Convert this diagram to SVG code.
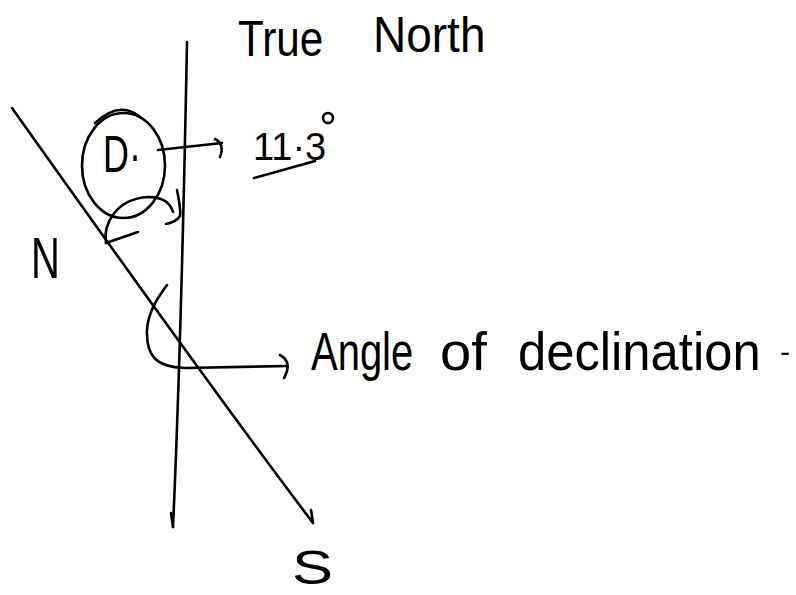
<svg xmlns="http://www.w3.org/2000/svg" width="796" height="595" viewBox="0 0 796 595">
<style>
.s{fill:none;stroke:#000;stroke-width:2.6;stroke-linecap:round;stroke-linejoin:round}
.t{font-family:"Liberation Sans",Arial,sans-serif;fill:#000}
</style>
<rect width="796" height="595" fill="#fff"/>
<g id="connectors">
<path class="s" d="M187,42 C184,200 181,350 173,527"/>
<path class="s" d="M171,513 L173,527"/>
<path class="s" d="M12,108 Q205,380 313,523"/>
<path class="s" d="M311,510 L313,523"/>
<path class="s" d="M158,150 L222,143"/>
<path class="s" d="M215,139 Q225,144 220,157"/>
<path class="s" d="M106,243 C103,225 115,199 148,197 C165,197 171,205 173,212"/>
<path class="s" d="M106,243 L138,232"/>
<path class="s" d="M177,190 Q181,210 180,216 Q176,222 166,224"/>
<path class="s" d="M167,285 C160,295 148,310 147,330 C146,355 155,367 185,368 L287,366"/>
<path class="s" d="M280,355 Q293,362 284,378"/>
</g>
<g id="node-D">
<ellipse class="s" cx="123.5" cy="165.5" rx="41.5" ry="52.5"/>
<path class="s" d="M95,123 Q120,100 140,117"/>
<text class="t" transform="translate(103,172) scale(0.69,1)" font-size="52">D·</text>
</g>
<g id="node-angle-value">
<text class="t" x="253" y="160" font-size="38">11·3</text>
<circle class="s" cx="328" cy="118" r="5"/>
<path class="s" d="M254,178 L315,161"/>
</g>
<g id="node-true-north">
<text class="t" transform="translate(238,56) scale(0.845,1)" font-size="50">True</text>
<text class="t" transform="translate(373,52) scale(0.92,1)" font-size="50">North</text>
</g>
<g id="node-N">
<text class="t" transform="translate(31,278) scale(0.69,1)" font-size="58">N</text>
</g>
<g id="node-S">
<text class="t" transform="translate(292,584) scale(1.28,1)" font-size="48">S</text>
</g>
<g id="node-declination">
<text class="t" transform="translate(311,370) scale(0.74,1)" font-size="54">Angle</text>
<text class="t" transform="translate(440,370) scale(1.04,1)" font-size="54">of</text>
<text class="t" transform="translate(518,370) scale(0.94,1)" font-size="54">declination</text>
<text class="t" x="780" y="362" font-size="30">-</text>
</g>
</svg>
